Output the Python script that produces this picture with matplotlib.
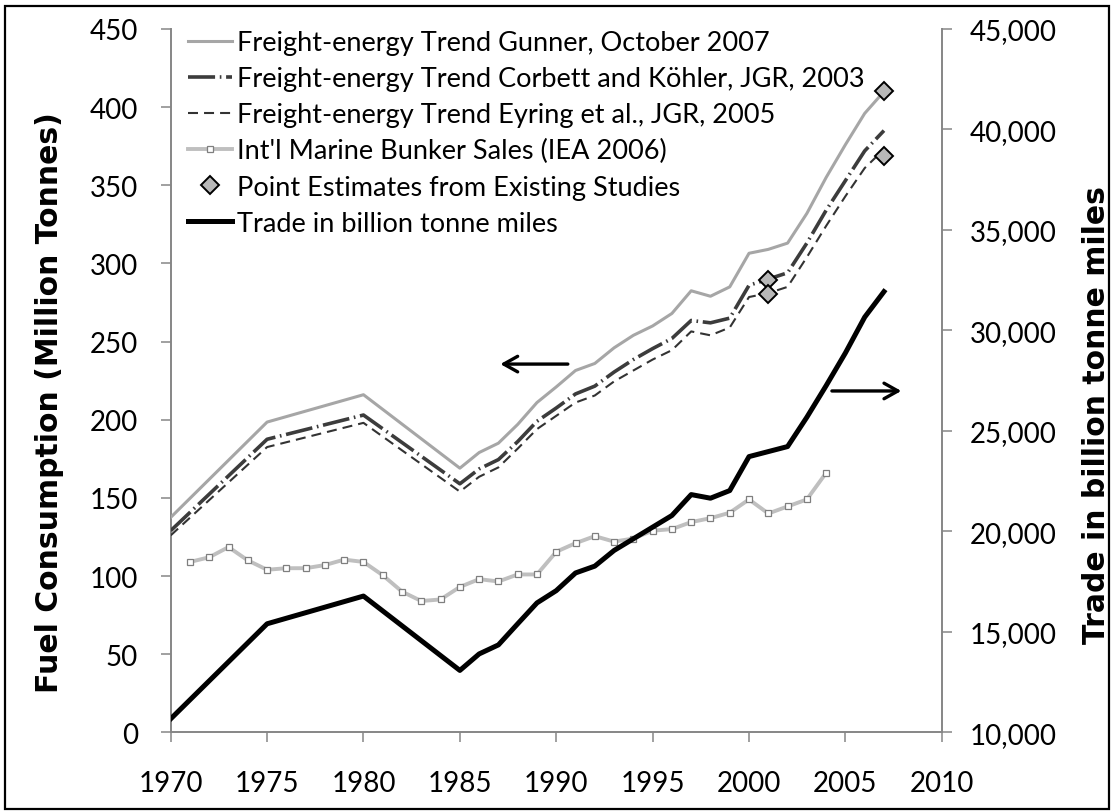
import matplotlib
matplotlib.use('Agg')
import matplotlib.pyplot as plt
from matplotlib.ticker import FuncFormatter, MultipleLocator
from matplotlib.patches import Rectangle

plt.rcParams['font.family'] = ['Lato', 'DejaVu Sans']

# ---------------- data ----------------
trend_years = [1970, 1975, 1980, 1985, 1986, 1987, 1988, 1989, 1990, 1991, 1992,
               1993, 1994, 1995, 1996, 1997, 1998, 1999, 2000, 2001, 2002, 2003,
               2004, 2005, 2006, 2007]
gunner = [137.5, 198.5, 216, 169, 179, 185, 197, 211, 221, 231.5, 236, 246, 254,
          260, 268, 282.5, 279, 285, 306.5, 309, 313, 332, 355, 376, 396, 410]
corbett = [129, 187.5, 203, 159, 168.5, 174.5, 186, 199, 207.5, 216.5, 221.5, 230.5,
           238.5, 245.5, 252, 263.5, 262, 265, 286, 290, 294, 313, 334, 353, 372, 385]
eyring = [126, 182.5, 198, 154, 163.5, 169.5, 181.5, 194, 202.5, 211, 215.5, 224.5,
          231.5, 238.5, 244.5, 256.5, 254, 259, 278.5, 281, 285, 304, 324, 343, 361, 373]
trade = [10670, 15400, 16780, 13080, 13900, 14350, 15400, 16440, 17050, 17930,
         18270, 19050, 19630, 20210, 20790, 21830, 21650, 22030, 23720, 23970,
         24220, 25680, 27250, 28880, 30660, 31930]
bunker_years = [1971, 1972, 1973, 1974, 1975, 1976, 1977, 1978, 1979, 1980, 1981,
                1982, 1983, 1984, 1985, 1986, 1987, 1988, 1989, 1990, 1991, 1992,
                1993, 1994, 1995, 1996, 1997, 1998, 1999, 2000, 2001, 2002, 2003, 2004]
bunker = [109, 112, 118.5, 110, 104, 105, 105, 107, 110.5, 109, 100.5, 90, 84, 85,
          93, 98, 96.5, 101, 101, 115.5, 121, 125.5, 122, 124, 129, 130, 134.5, 137,
          140.5, 149, 140, 144.5, 149, 166]
point_years = [2001, 2001, 2007, 2007]
point_values = [289.5, 280.5, 410.5, 368.5]

series_labels = ['Freight-energy Trend Gunner, October 2007',
                 'Freight-energy Trend Corbett and Köhler, JGR, 2003',
                 'Freight-energy Trend Eyring et al., JGR, 2005',
                 "Int'l Marine Bunker Sales (IEA 2006)",
                 'Point Estimates from Existing Studies',
                 'Trade in billion tonne miles']

x_ticks = [1970, 1975, 1980, 1985, 1990, 1995, 2000, 2005, 2010]

# ---------------- figure ----------------
W, H = 1112, 812
fig = plt.figure(figsize=(W / 100, H / 100), dpi=100)
fig.patch.set_facecolor('white')

ax_l, ax_r, ax_b, ax_t = 170.7, 941.8, 733.3, 30.0
ax = fig.add_axes([ax_l / W, 1 - ax_b / H, (ax_r - ax_l) / W, (ax_b - ax_t) / H])
ax2 = ax.twinx()

axis_grey = '#868686'

l_bunker, = ax.plot(bunker_years, bunker, color='#BFBFBF', lw=2.8,
                    marker='s', ms=5, mfc='white', mec='#7F7F7F', mew=0.9, zorder=2)
l_eyring, = ax.plot(trend_years, eyring, color='#333333', lw=1.5,
                    dashes=[4.8, 2.9], zorder=3)
l_corbett, = ax.plot(trend_years, corbett, color='#3C3C3C', lw=2.6,
                     dashes=[7.5, 1.3, 0.45, 1.3], zorder=4)
l_gunner, = ax.plot(trend_years, gunner, color='#A6A6A6', lw=2.2, zorder=5)
l_points, = ax.plot(point_years, point_values, ls='none', marker='D', ms=9,
                    mfc='#B8B8B8', mec='black', mew=1.4, zorder=6)
l_trade, = ax2.plot(trend_years, trade, color='black', lw=3.6, zorder=5)

# arrows
arrow_kw = dict(arrowstyle='->,head_length=0.5,head_width=0.28', lw=2.4,
                color='black', mutation_scale=20, shrinkA=0, shrinkB=0)
ax.annotate('', xy=(1987.1, 235.6), xytext=(1990.6, 235.6), arrowprops=arrow_kw)
ax.annotate('', xy=(2007.9, 218.4), xytext=(2004.3, 218.4), arrowprops=arrow_kw)

# axes limits / ticks
ax.set_xlim(1970, 2010)
ax.set_ylim(0, 450)
ax2.set_ylim(10000, 45000)
ax.set_xticks(x_ticks)
ax.yaxis.set_major_locator(MultipleLocator(50))
ax2.yaxis.set_major_locator(MultipleLocator(5000))
ax2.yaxis.set_major_formatter(FuncFormatter(lambda v, p: f'{int(v):,}'))

for a in (ax, ax2):
    a.spines['top'].set_visible(False)
ax.spines['right'].set_visible(False)
ax2.spines['left'].set_visible(False)
ax2.spines['bottom'].set_visible(False)
for s in (ax.spines['left'], ax.spines['bottom'], ax2.spines['right']):
    s.set_color(axis_grey)
    s.set_linewidth(1.4)

ax.tick_params(axis='y', direction='out', length=7.2, width=1.1, color=axis_grey,
               pad=16.5, labelsize=20, labelcolor='black')
ax.tick_params(axis='x', direction='out', length=7.2, width=1.1, color=axis_grey,
               pad=20, labelsize=20, labelcolor='black')
ax2.tick_params(axis='y', direction='out', length=7.2, width=1.1, color=axis_grey,
                pad=13, labelsize=20, labelcolor='black')

# axis titles
ax.set_ylabel('Fuel Consumption (Million Tonnes)', fontfamily='DejaVu Sans',
              fontweight='bold', fontsize=21.5)
ax.yaxis.set_label_coords((49.5 - ax_l) / (ax_r - ax_l), (ax_b - 403) / (ax_b - ax_t))
ax.yaxis.label.set_va('center')
ax.yaxis.label.set_ha('center')
ax2.set_ylabel('Trade in billion tonne miles', fontfamily='DejaVu Sans',
               fontweight='bold', fontsize=21.5, rotation=90)
ax2.yaxis.set_label_coords((1096 - ax_l) / (ax_r - ax_l), (ax_b - 415) / (ax_b - ax_t))
ax2.yaxis.label.set_va('center')
ax2.yaxis.label.set_ha('center')

# legend
handles = [l_gunner, l_corbett, l_eyring, l_bunker, l_points, l_trade]
leg = ax2.legend(handles, series_labels, loc='upper left',
                 bbox_to_anchor=(188 / W, 1 - 31 / H), bbox_transform=fig.transFigure,
                 frameon=False, fontsize=19.5, handlelength=1.62, handletextpad=0.18,
                 labelspacing=0.41, borderpad=0, borderaxespad=0)

# outer frame
fig.add_artist(Rectangle((5 / W, 1 - 810 / H), (1109 - 5) / W, (810 - 7) / H,
                         transform=fig.transFigure, fill=False, ec='black', lw=1.6))

fig.savefig('out.png', dpi=100)
